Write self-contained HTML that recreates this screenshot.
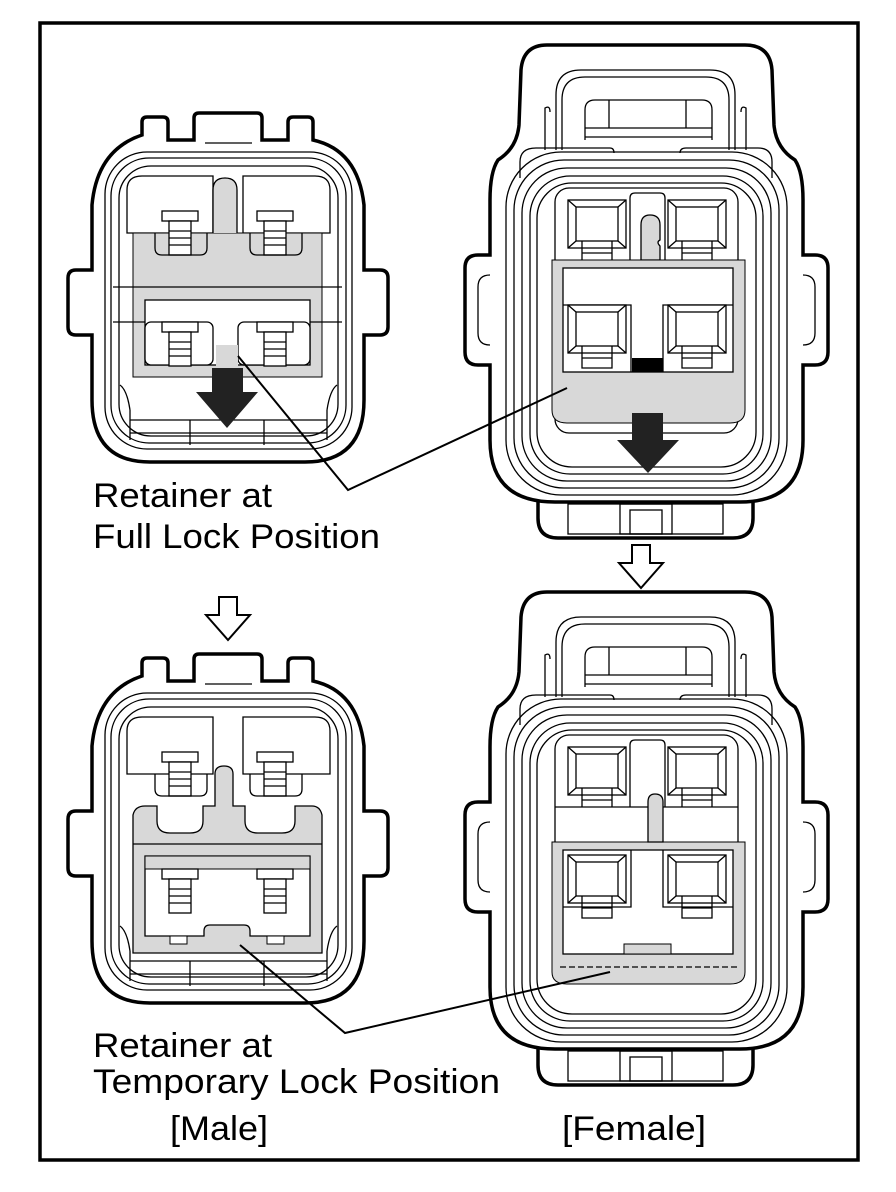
<!DOCTYPE html>
<html><head><meta charset="utf-8"><style>
html,body{margin:0;padding:0;background:#fff}
svg{display:block}
text{font-family:"Liberation Sans",Arial,sans-serif;fill:#000}
</style></head><body>
<svg width="896" height="1192" viewBox="0 0 896 1192" xmlns="http://www.w3.org/2000/svg">
<defs>
<g id="maleBody" fill="none" stroke="#000">
 <path stroke-width="3.5" fill="#fff" d="M142,135 V122 Q142,117 147,117 H163 Q168,117 168,122 V140 H194 V118 Q194,113 199,113 H257 Q262,113 262,118 V140 H288 V122 Q288,117 293,117 H308 Q313,117 313,122 V140 Q358,150 364,205 V270 H380 Q388,270 388,278 V327 Q388,335 380,335 H364 V400 Q364,462 305,462 H150 Q92,462 92,400 V335 H76 Q68,335 68,327 V278 Q68,270 76,270 H92 V205 Q97,150 142,135 Z"/>
 <line x1="205" y1="143" x2="252" y2="143" stroke-width="1.3"/>
 <rect x="105" y="152" width="247" height="297" rx="42" stroke-width="1.3"/>
 <rect x="111" y="158" width="235" height="285" rx="38" stroke-width="1.3"/>
 <rect x="119" y="166" width="219" height="270" rx="32" stroke-width="1.3"/>
 <path stroke-width="1.3" d="M127,233 V190 Q127,176 142,176 H213 V233 Z M243,176 H315 Q330,176 330,190 V233 H243 Z"/>
 <path stroke-width="1.3" d="M130,410 L130,440 M327,410 L327,440 M130,410 Q127,390 120,385 M327,410 Q330,390 337,385"/>
 <line x1="130" y1="420" x2="327" y2="420" stroke-width="1.3"/>
 <line x1="130" y1="433" x2="327" y2="433" stroke-width="1.3"/>
 <line x1="190" y1="420" x2="190" y2="445" stroke-width="1.3"/>
 <line x1="264" y1="420" x2="264" y2="445" stroke-width="1.3"/>
</g>
<g id="maleTerm" fill="#fff" stroke="#000" stroke-width="1.3">
 <rect x="0" y="0" width="36" height="10"/>
 <rect x="7" y="10" width="22" height="34"/>
 <line x1="7" y1="20" x2="29" y2="20"/><line x1="7" y1="27" x2="29" y2="27"/><line x1="7" y1="34" x2="29" y2="34"/>
</g>
<g id="femCav" fill="#fff" stroke="#000" stroke-width="1.3">
 <rect x="0" y="0" width="58" height="48"/>
 <rect x="8" y="7" width="42" height="34"/>
 <line x1="0" y1="0" x2="8" y2="7"/><line x1="58" y1="0" x2="50" y2="7"/><line x1="0" y1="48" x2="8" y2="41"/><line x1="58" y1="48" x2="50" y2="41"/>
 <polyline fill="none" points="14,41 14,63 44,63 44,41"/>
 <line x1="14" y1="53" x2="44" y2="53"/>
</g>
<g id="femBody" fill="none" stroke="#000">
 <path stroke-width="3.5" fill="#fff" d="M538,495 V518 Q538,538 558,538 H733 Q753,538 753,518 V495"/>
 <path stroke-width="3.5" fill="#fff" d="M547,45 H745 Q770,45 772,70 L774,125 Q776,148 795,160 Q803,172 803,200 V255 H815 Q828,255 828,268 V352 Q828,365 815,365 H803 V440 Q803,502 740,502 H555 Q490,502 490,440 V365 H478 Q465,365 465,352 V268 Q465,255 478,255 H490 V200 Q490,172 498,160 Q517,148 519,125 L521,70 Q523,45 547,45 Z"/>
 <rect x="568" y="504" width="155" height="30" stroke-width="1.3"/>
 <rect x="620" y="504" width="52" height="30" stroke-width="1.3"/>
 <rect x="630" y="510" width="32" height="24" stroke-width="1.3"/>
 <path stroke-width="1.3" d="M556,150 V95 Q556,70 581,70 H710 Q735,70 735,95 V150"/>
 <path stroke-width="1.3" d="M562,150 V100 Q562,77 585,77 H706 Q729,77 729,100 V150"/>
 <path stroke-width="1.3" d="M585,140 V110 Q585,100 595,100 H702 Q712,100 712,110 V140"/>
 <line x1="585" y1="128" x2="712" y2="128" stroke-width="1.3"/>
 <line x1="585" y1="137" x2="712" y2="137" stroke-width="1.3"/>
 <line x1="609" y1="100" x2="609" y2="128" stroke-width="1.3"/>
 <line x1="686" y1="100" x2="686" y2="128" stroke-width="1.3"/>
 <path stroke-width="1.3" d="M550,112 Q550,105 545,108 L545,150 M741,112 Q741,105 746,108 L746,150"/>
 <path stroke-width="1.3" d="M520,178 L520,162 Q520,148 536,148 H610 Q614,148 614,153 M680,153 Q680,148 686,148 H758 Q772,148 772,162 V178"/>
 <rect x="506" y="152" width="281" height="343" rx="55" stroke-width="1.3"/>
 <rect x="514" y="160" width="265" height="328" rx="50" stroke-width="1.3"/>
 <rect x="522" y="168" width="249" height="313" rx="45" stroke-width="1.3"/>
 <rect x="530" y="176" width="233" height="298" rx="40" stroke-width="1.3"/>
 <rect x="537" y="183" width="219" height="284" rx="35" stroke-width="1.3"/>
 <rect x="555" y="188" width="183" height="245" rx="14" stroke-width="1.3"/>
 <path stroke-width="1.3" d="M490,275 Q478,275 478,287 V333 Q478,345 490,345 M803,275 Q815,275 815,287 V333 Q815,345 803,345"/>
 <path stroke-width="1.3" fill="#fff" d="M630,260 V198 Q630,193 635,193 H660 Q665,193 665,198 V260"/>
</g>
</defs>

<rect x="40" y="23" width="818" height="1137" fill="none" stroke="#000" stroke-width="3.5"/>

<!-- MALE TOP -->
<use href="#maleBody"/>
<rect x="133" y="233" width="189" height="144" fill="#d8d8d8" stroke="#000" stroke-width="1"/>
<path d="M213,233 V190 Q213,178 225,178 Q237,178 237,190 V233" fill="#d8d8d8" stroke="#000" stroke-width="1.3"/>
<use href="#maleTerm" x="162" y="211"/>
<use href="#maleTerm" x="257" y="211"/>
<path d="M155,233 V248 Q155,255 162,255 H200 Q207,255 207,248 V233 M250,233 V248 Q250,255 257,255 H295 Q302,255 302,248 V233" fill="none" stroke="#000" stroke-width="1.3"/>
<line x1="113" y1="287" x2="342" y2="287" stroke="#000" stroke-width="1.3"/>
<line x1="113" y1="322" x2="342" y2="322" stroke="#000" stroke-width="1.3"/>
<rect x="145" y="300" width="165" height="65" fill="#fff" stroke="#000" stroke-width="1.3"/>
<rect x="145" y="322" width="68" height="43" rx="6" fill="#fff" stroke="#000" stroke-width="1.3"/>
<rect x="238" y="322" width="72" height="43" rx="6" fill="#fff" stroke="#000" stroke-width="1.3"/>
<rect x="216" y="345" width="22" height="22" fill="#d8d8d8"/>
<use href="#maleTerm" x="162" y="322"/>
<use href="#maleTerm" x="257" y="322"/>
<polygon points="212,368 243,368 243,392 258,392 227,428 196,392 212,392" fill="#222"/>

<!-- FEMALE TOP -->
<use href="#femBody"/>
<use href="#femCav" x="568" y="200"/>
<use href="#femCav" x="668" y="200"/>
<path d="M641,260 V225 Q641,215 650,215 Q660,215 660,225 V240 Q656,242 660,246 V260 Z" fill="#d8d8d8" stroke="#000" stroke-width="1.3"/>
<path d="M552,260 H745 V410 Q745,423 730,423 H567 Q552,423 552,410 Z" fill="#d8d8d8" stroke="#000" stroke-width="1"/>
<rect x="563" y="268" width="170" height="104" fill="#fff" stroke="#000" stroke-width="1.3"/>
<polyline points="563,305 631,305 631,372" fill="none" stroke="#000" stroke-width="1.3"/>
<polyline points="663,372 663,305 733,305" fill="none" stroke="#000" stroke-width="1.3"/>
<use href="#femCav" x="568" y="305"/>
<use href="#femCav" x="668" y="305"/>
<rect x="632" y="358" width="31" height="14" fill="#000"/>
<polygon points="632,413 663,413 663,440 679,440 648,473 617,440 632,440" fill="#222"/>

<!-- leader top -->
<polyline points="238,356 348,490 567,388" fill="none" stroke="#000" stroke-width="2"/>
<text x="93" y="507" font-size="34" textLength="179" lengthAdjust="spacingAndGlyphs">Retainer at</text>
<text x="93" y="548" font-size="34" textLength="287" lengthAdjust="spacingAndGlyphs">Full Lock Position</text>

<!-- hollow arrows -->
<polygon points="632,545 650,545 650,563 663,563 641,588 619,563 632,563" fill="#fff" stroke="#000" stroke-width="2"/>
<polygon points="219,597 237,597 237,615 250,615 228,640 206,615 219,615" fill="#fff" stroke="#000" stroke-width="2"/>

<!-- MALE BOTTOM -->
<g transform="translate(0,541)">
<use href="#maleBody"/>
<use href="#maleTerm" x="162" y="211"/>
<use href="#maleTerm" x="257" y="211"/>
<path d="M155,233 V248 Q155,255 162,255 H200 Q207,255 207,248 V233 M250,233 V248 Q250,255 257,255 H295 Q302,255 302,248 V233" fill="none" stroke="#000" stroke-width="1.3"/>
<path d="M133,274 Q135,265 145,265 H157 V280 Q157,292 170,292 H190 Q203,292 203,280 V265 H215 V233 Q215,225 224,225 Q233,225 233,233 V265 H245 V280 Q245,292 258,292 H282 Q295,292 295,280 V265 H312 Q320,265 322,274 V412 H133 Z" fill="#d8d8d8" stroke="#000" stroke-width="1.3"/>
<line x1="133" y1="303" x2="322" y2="303" stroke="#000" stroke-width="1.3"/>
<path d="M145,315 H310 V395 H250 V390 Q250,384 244,384 H210 Q204,384 204,390 V395 H145 Z" fill="#fff" stroke="#000" stroke-width="1.3"/>
<rect x="145" y="315" width="165" height="13" fill="#d8d8d8" stroke="#000" stroke-width="1"/>
<use href="#maleTerm" x="162" y="328"/>
<use href="#maleTerm" x="257" y="328"/>
<rect x="170" y="395" width="17" height="8" fill="#fff" stroke="#000" stroke-width="1"/>
<rect x="267" y="395" width="17" height="8" fill="#fff" stroke="#000" stroke-width="1"/>
</g>

<!-- FEMALE BOTTOM -->
<g transform="translate(0,547)">
<use href="#femBody"/>
<use href="#femCav" x="568" y="200"/>
<use href="#femCav" x="668" y="200"/>
<rect x="563" y="260" width="170" height="28" fill="#fff"/>
<line x1="555" y1="260" x2="738" y2="260" stroke="#000" stroke-width="1.3"/>
<path d="M552,295 H745 V425 Q745,437 730,437 H567 Q552,437 552,425 Z" fill="#d8d8d8" stroke="#000" stroke-width="1"/>
<path d="M648,295 V255 Q648,247 655,247 Q663,247 663,255 V295 Z" fill="#d8d8d8" stroke="#000" stroke-width="1.3"/>
<rect x="563" y="303" width="170" height="104" fill="#fff" stroke="#000" stroke-width="1.3"/>
<polyline points="563,360 631,360 631,303" fill="none" stroke="#000" stroke-width="1.3"/>
<polyline points="733,360 663,360 663,303" fill="none" stroke="#000" stroke-width="1.3"/>
<use href="#femCav" x="568" y="308"/>
<use href="#femCav" x="668" y="308"/>
<rect x="624" y="397" width="47" height="10" fill="#d8d8d8" stroke="#000" stroke-width="1"/>
<line x1="560" y1="420" x2="738" y2="420" stroke="#000" stroke-width="1.2" stroke-dasharray="6,3"/>
</g>

<!-- leader bottom -->
<polyline points="240,945 345,1033 610,972" fill="none" stroke="#000" stroke-width="2"/>

<text x="93" y="1057" font-size="34" textLength="179" lengthAdjust="spacingAndGlyphs">Retainer at</text>
<text x="93" y="1093" font-size="34" textLength="407" lengthAdjust="spacingAndGlyphs">Temporary Lock Position</text>
<text x="170" y="1140" font-size="34" textLength="98" lengthAdjust="spacingAndGlyphs">[Male]</text>
<text x="562" y="1140" font-size="34" textLength="144" lengthAdjust="spacingAndGlyphs">[Female]</text>
</svg>
</body></html>
